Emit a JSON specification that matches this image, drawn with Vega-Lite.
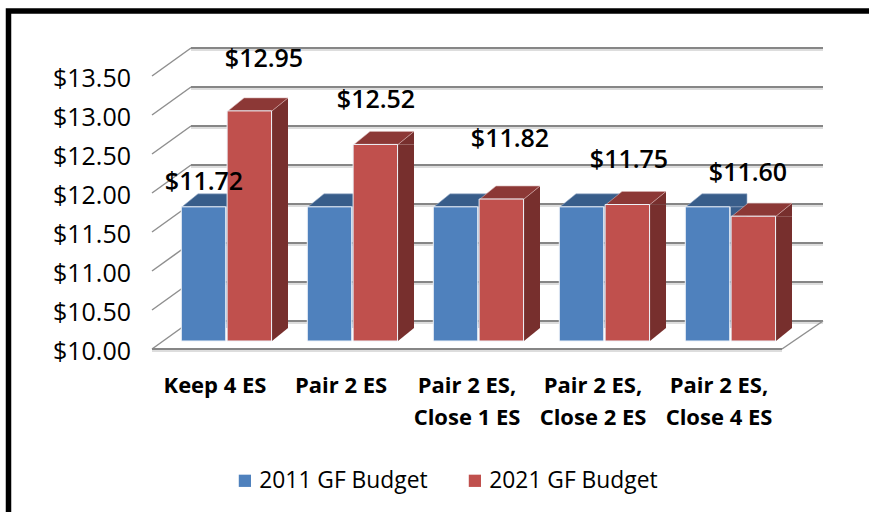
{
"$schema":"https://vega.github.io/schema/vega-lite/v6.json",
"autosize":{"type":"none"},
"padding":{"left":8.5,"top":11,"right":0,"bottom":0},
"width":870,"height":510,
"background":"white",
"view":{"stroke":"#000000","strokeWidth":5.5,"fill":"white"},
"title":{"text":"Comparison of Normalized Total GF Budget for Each Option (in Millions)","font":"Open Sans","fontStyle":"italic","fontWeight":"normal","fontSize":22,"color":"#000000","anchor":"middle","baseline":"alphabetic","offset":7},
"datasets":{
"bars":[
{"option":"Keep 4 ES","series":"2011 GF Budget","value":11.72},
{"option":"Keep 4 ES","series":"2021 GF Budget","value":12.95},
{"option":"Pair 2 ES","series":"2011 GF Budget","value":11.72},
{"option":"Pair 2 ES","series":"2021 GF Budget","value":12.52},
{"option":"Pair 2 ES, Close 1 ES","series":"2011 GF Budget","value":11.72},
{"option":"Pair 2 ES, Close 1 ES","series":"2021 GF Budget","value":11.82},
{"option":"Pair 2 ES, Close 2 ES","series":"2011 GF Budget","value":11.72},
{"option":"Pair 2 ES, Close 2 ES","series":"2021 GF Budget","value":11.75},
{"option":"Pair 2 ES, Close 4 ES","series":"2011 GF Budget","value":11.72},
{"option":"Pair 2 ES, Close 4 ES","series":"2021 GF Budget","value":11.60}
],
"ticks":[{"tick":10},{"tick":10.5},{"tick":11},{"tick":11.5},{"tick":12},{"tick":12.5},{"tick":13},{"tick":13.5}],
"labels":[
{"option":"Keep 4 ES","value":11.72,"which":"a"},
{"option":"Keep 4 ES","value":12.95,"which":"b"},
{"option":"Pair 2 ES","value":12.52,"which":"c"},
{"option":"Pair 2 ES, Close 1 ES","value":11.82,"which":"d"},
{"option":"Pair 2 ES, Close 2 ES","value":11.75,"which":"e"},
{"option":"Pair 2 ES, Close 4 ES","value":11.60,"which":"f"}
]
},
"encoding":{
"x":{"field":"option","type":"nominal","sort":null,"title":null,
"scale":{"domain":["Keep 4 ES","Pair 2 ES","Pair 2 ES, Close 1 ES","Pair 2 ES, Close 2 ES","Pair 2 ES, Close 4 ES"],"range":[143.5,773.5],"paddingInner":0,"paddingOuter":0},
"axis":{"orient":"bottom","offset":-146,"domain":false,"ticks":false,"grid":false,"labelAngle":0,"labelFont":"Open Sans","labelFontWeight":"bold","labelFontSize":22,"labelColor":"#000000","labelPadding":0,"labelLineHeight":32,"labelBaseline":"top","labelExpr":"indexof(datum.label,', ')>0 ? [substring(datum.label,0,indexof(datum.label,', ')+1),substring(datum.label,indexof(datum.label,', ')+2)] : datum.label"}},
"y":{"field":"value","type":"quantitative","title":null,
"scale":{"domain":[10,13.5],"range":[338,65],"nice":false,"zero":false},
"axis":{"orient":"left","offset":-122,"domain":false,"ticks":false,"grid":false,"values":[10,10.5,11,11.5,12,12.5,13,13.5],"format":"$.2f","labelFont":"Open Sans","labelFontSize":25,"labelColor":"#000000","labelPadding":0,"labelOffset":2}}
},
"layer":[
{"data":{"name":"ticks"},"mark":{"type":"rule","stroke":"#dddddd","strokeWidth":2,"xOffset":-24,"x2Offset":104,"yOffset":-26,"y2Offset":-26},
 "encoding":{"x":{"datum":"Keep 4 ES"},"x2":{"datum":"Pair 2 ES, Close 4 ES"},"y":{"field":"tick","type":"quantitative"}}},
{"data":{"name":"ticks"},"mark":{"type":"rule","stroke":"#868686","strokeWidth":2,"xOffset":-24,"x2Offset":104,"yOffset":-28,"y2Offset":-28},
 "encoding":{"x":{"datum":"Keep 4 ES"},"x2":{"datum":"Pair 2 ES, Close 4 ES"},"y":{"field":"tick","type":"quantitative"}}},
{"data":{"name":"ticks"},"mark":{"type":"rule","stroke":"#8f8f8f","strokeWidth":1.5,"xOffset":-63,"x2Offset":-24,"y2Offset":-28},
 "encoding":{"x":{"datum":"Keep 4 ES"},"x2":{"datum":"Keep 4 ES"},"y":{"field":"tick","type":"quantitative"},"y2":{"field":"tick"}}},
{"data":{"values":[{"tick":10}]},"mark":{"type":"rule","stroke":"#8f8f8f","strokeWidth":1.5,"xOffset":63,"x2Offset":104,"y2Offset":-28},
 "encoding":{"x":{"datum":"Pair 2 ES, Close 4 ES"},"x2":{"datum":"Pair 2 ES, Close 4 ES"},"y":{"field":"tick","type":"quantitative"},"y2":{"field":"tick"}}},
{"data":{"values":[{"tick":10}]},"mark":{"type":"rule","stroke":"#dddddd","strokeWidth":2,"xOffset":-63,"x2Offset":63,"yOffset":2,"y2Offset":2},
 "encoding":{"x":{"datum":"Keep 4 ES"},"x2":{"datum":"Pair 2 ES, Close 4 ES"},"y":{"field":"tick","type":"quantitative"}}},
{"data":{"values":[{"tick":10}]},"mark":{"type":"rule","stroke":"#868686","strokeWidth":2,"xOffset":-63,"x2Offset":63},
 "encoding":{"x":{"datum":"Keep 4 ES"},"x2":{"datum":"Pair 2 ES, Close 4 ES"},"y":{"field":"tick","type":"quantitative"}}},

{"data":{"name":"bars"},"transform":[{"filter":"datum.series=='2011 GF Budget'"}],"mark":{"type":"bar","fill":"#385D8A","size":16,"xOffset":19.5,"yOffset":-8,"y2Offset":-21},
 "encoding":{"y":{"field":"value","type":"quantitative"},"y2":{"datum":10}}},
{"data":{"name":"bars"},"transform":[{"filter":"datum.series=='2011 GF Budget'"}],"mark":{"type":"point","filled":true,"opacity":1,"size":4,"fill":"#385D8A","stroke":"#9fb4cf","strokeWidth":0.6,"xOffset":-11,"yOffset":-8,"shape":"M-22 0L23 0L39 0L39 -13L-6 -13Z"}},
{"data":{"name":"bars"},"transform":[{"filter":"datum.series=='2021 GF Budget'"}],"mark":{"type":"bar","fill":"#772F2D","size":16,"xOffset":65,"yOffset":-8,"y2Offset":-21},
 "encoding":{"y":{"field":"value","type":"quantitative"},"y2":{"datum":10}}},
{"data":{"name":"bars"},"transform":[{"filter":"datum.series=='2021 GF Budget'"}],"mark":{"type":"point","filled":true,"opacity":1,"size":4,"fill":"#772F2D","stroke":null,"xOffset":35,"yOffset":-8,"shape":"M22 0L38 -13L38 0Z"}},
{"data":{"name":"bars"},"transform":[{"filter":"datum.series=='2021 GF Budget'"}],"mark":{"type":"point","filled":true,"opacity":1,"size":4,"fill":"#8C3836","stroke":"#d9b4b3","strokeWidth":0.6,"xOffset":35,"yOffset":-8,"shape":"M-22 0L22 0L38 -13L-6 -13Z"}},
{"data":{"values":[{"option":"Keep 4 ES","value":10},{"option":"Pair 2 ES","value":10},{"option":"Pair 2 ES, Close 1 ES","value":10},{"option":"Pair 2 ES, Close 2 ES","value":10},{"option":"Pair 2 ES, Close 4 ES","value":10}]},"mark":{"type":"point","filled":true,"opacity":1,"size":4,"fill":"#772F2D","stroke":null,"xOffset":35,"yOffset":-8,"shape":"M22 0L38 -13L22 -13Z"}},

{"data":{"name":"bars"},"mark":{"type":"bar","stroke":"#eef2f8","strokeWidth":1,"yOffset":-8,"y2Offset":-8},
 "encoding":{"xOffset":{"field":"series","type":"nominal","scale":{"paddingInner":0.03,"paddingOuter":0.39,"align":0.82}},
 "y":{"field":"value","type":"quantitative"},"y2":{"datum":10},
 "color":{"field":"series","type":"nominal","title":null,
 "scale":{"domain":["2011 GF Budget","2021 GF Budget"],"range":["#4F81BD","#C0504D"]},
 "legend":{"orient":"none","legendX":225,"legendY":458,"direction":"horizontal","columns":2,"symbolType":"square","symbolSize":150,"symbolStrokeWidth":0,"labelFont":"Open Sans","labelFontSize":22.8,"labelOffset":3,"labelColor":"#000000","labelLimit":300,"columnPadding":35,"title":null}}}},

{"data":{"name":"labels"},"mark":{"type":"text","font":"Open Sans","fontSize":25,"fontWeight":600,"color":"#000000","baseline":"middle",
 "dx":{"expr":"datum.which=='a'?-11:datum.which=='b'?49:datum.which=='c'?35:datum.which=='d'?43:datum.which=='e'?36:29"},
 "dy":{"expr":"datum.which=='a'?-33:datum.which=='b'?-60:datum.which=='c'?-52:datum.which=='d'?-68:datum.which=='e'?-52.5:-51"}},
 "encoding":{"text":{"field":"value","type":"quantitative","format":"$.2f"}}}
]
}
